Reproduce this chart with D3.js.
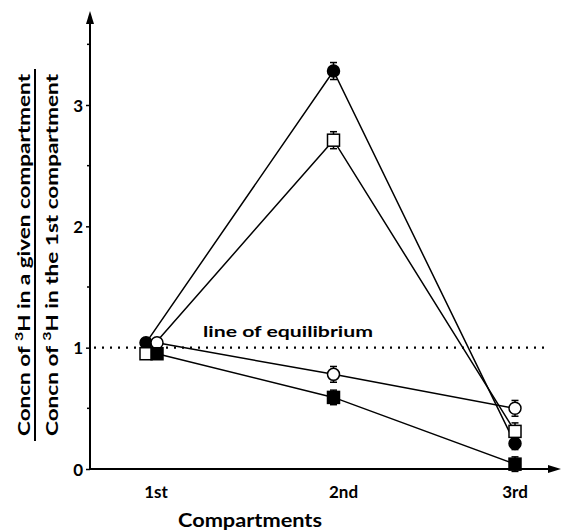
<!DOCTYPE html>
<html>
<head>
<meta charset="utf-8">
<script src="https://cdn.jsdelivr.net/npm/d3@7"></script>
<style>
  html, body { margin: 0; padding: 0; background: #fff; }
  svg text { font-family: Lato, "DejaVu Sans", sans-serif; font-weight: 700; fill: #000; }
</style>
</head>
<body>
<div id="chart"></div>
<script>
// compartments along the x axis
const compartments = ["1st", "2nd", "3rd"];

// ratio of 3H concentration to the 1st compartment, one array per series
const filledCircle = [1.04, 3.28, 0.21];
const openSquare = [0.95, 2.71, 0.31];
const openCircle = [1.04, 0.78, 0.50];
const filledSquare = [0.95, 0.59, 0.04];

// half-width of the error bars
const filledCircleErr = [0.03, 0.07, 0.05];
const openSquareErr = [0.03, 0.07, 0.07];
const openCircleErr = [0.03, 0.065, 0.065];
const filledSquareErr = [0.03, 0.06, 0.06];

const yTicks = [0, 1, 2, 3];
const yMinorTicks = [0.5, 1.5, 2.5, 3.5];
const equilibrium = 1;

const width = 561;
const height = 532;
const lineColor = "#000000";

const series = [
  { name: "filledCircle", values: filledCircle, err: filledCircleErr, shape: "circle", fill: "#000", nudge: -6 },
  { name: "openSquare", values: openSquare, err: openSquareErr, shape: "square", fill: "#fff", nudge: -6 },
  { name: "openCircle", values: openCircle, err: openCircleErr, shape: "circle", fill: "#fff", nudge: 5 },
  { name: "filledSquare", values: filledSquare, err: filledSquareErr, shape: "square", fill: "#000", nudge: 5 }
];

const x = d3.scalePoint()
  .domain(compartments)
  .range([152, 515]);

const y = d3.scaleLinear()
  .domain([0, 3])
  .range([469, 105]);

// the first compartment points are drawn side by side in the original
const px = (s, i) => x(compartments[i]) + (i === 0 ? s.nudge : 0);

const svg = d3.select('#chart').append('svg')
  .attr('width', width)
  .attr('height', height);

// y axis with arrow
const yAxis = d3.axisLeft(y)
  .tickValues(yTicks)
  .tickSize(4)
  .tickPadding(3)
  .tickFormat(d3.format('d'));

const gy = svg.append('g')
  .attr('transform', 'translate(90,0)')
  .call(yAxis);
gy.select('.domain').remove();
gy.selectAll('line').attr('stroke', lineColor).attr('stroke-width', 1.5);
gy.selectAll('text')
  .style('font-size', '17px')
  .attr('dy', '0.36em');

svg.append('line')
  .attr('x1', 90).attr('x2', 90)
  .attr('y1', y(0) + 1).attr('y2', 20)
  .attr('stroke', lineColor)
  .attr('stroke-width', 2);
svg.append('path')
  .attr('d', 'M90,11 L94,24 L86,24 Z')
  .attr('fill', lineColor);

svg.selectAll('.minor')
  .data(yMinorTicks)
  .enter().append('line')
  .attr('class', 'minor')
  .attr('x1', 87).attr('x2', 90)
  .attr('y1', d => y(d)).attr('y2', d => y(d))
  .attr('stroke', lineColor)
  .attr('stroke-width', 1.5);

// x axis with arrow
svg.append('line')
  .attr('x1', 89).attr('x2', 552)
  .attr('y1', y(0)).attr('y2', y(0))
  .attr('stroke', lineColor)
  .attr('stroke-width', 2);
svg.append('path')
  .attr('d', `M561,${y(0)} L548,${y(0) - 4} L548,${y(0) + 4} Z`)
  .attr('fill', lineColor);

const tickNudge = [4, 10, 0];
svg.selectAll('.xlabel')
  .data(compartments)
  .enter().append('text')
  .attr('class', 'xlabel')
  .attr('x', (d, i) => x(d) + tickNudge[i])
  .attr('y', 498)
  .attr('text-anchor', 'middle')
  .style('font-size', '17px')
  .text(d => d);

svg.append('text')
  .attr('x', 250)
  .attr('y', 527)
  .attr('text-anchor', 'middle')
  .attr('textLength', 144)
  .attr('lengthAdjust', 'spacingAndGlyphs')
  .style('font-size', '18px')
  .text('Compartments');

// y axis label as a fraction
const yLabel = svg.append('g')
  .attr('transform', 'translate(0,255) rotate(-90)');

const num = yLabel.append('text')
  .attr('x', 0)
  .attr('y', 30)
  .attr('text-anchor', 'middle')
  .attr('textLength', 362)
  .attr('lengthAdjust', 'spacingAndGlyphs')
  .style('font-size', '17px');
num.append('tspan').text('Concn of ');
num.append('tspan').attr('dy', -7).style('font-size', '12px').text('3');
num.append('tspan').attr('dy', 7).text('H in a given compartment');

yLabel.append('line')
  .attr('x1', -186).attr('x2', 186)
  .attr('y1', 35).attr('y2', 35)
  .attr('stroke', lineColor)
  .attr('stroke-width', 2);

const den = yLabel.append('text')
  .attr('x', 0)
  .attr('y', 58)
  .attr('text-anchor', 'middle')
  .attr('textLength', 362)
  .attr('lengthAdjust', 'spacingAndGlyphs')
  .style('font-size', '17px');
den.append('tspan').text('Concn of ');
den.append('tspan').attr('dy', -7).style('font-size', '12px').text('3');
den.append('tspan').attr('dy', 7).text('H in the 1st compartment');

// line of equilibrium
svg.append('line')
  .attr('x1', 94).attr('x2', 548)
  .attr('y1', y(equilibrium)).attr('y2', y(equilibrium))
  .attr('stroke', lineColor)
  .attr('stroke-width', 2.2)
  .attr('stroke-dasharray', '2,6');

svg.append('text')
  .attr('x', 203)
  .attr('y', 337)
  .attr('textLength', 170)
  .attr('lengthAdjust', 'spacingAndGlyphs')
  .style('font-size', '15px')
  .text('line of equilibrium');

// connecting lines
const line = d3.line()
  .x(d => d.x)
  .y(d => d.y);

series.forEach(s => {
  const pts = s.values.map((v, i) => ({ x: px(s, i), y: y(v) }));
  svg.append('path')
    .datum(pts)
    .attr('d', line)
    .attr('fill', 'none')
    .attr('stroke', lineColor)
    .attr('stroke-width', 1.5);
});

// error bars and markers
series.forEach(s => {
  const g = svg.append('g').attr('class', s.name);
  s.values.forEach((v, i) => {
    const cx = px(s, i);
    const top = y(v + s.err[i]);
    const bot = y(v - s.err[i]);
    g.append('line')
      .attr('x1', cx).attr('x2', cx)
      .attr('y1', top).attr('y2', bot)
      .attr('stroke', lineColor).attr('stroke-width', 1.5);
    [top, bot].forEach(yy => {
      g.append('line')
        .attr('x1', cx - 3.5).attr('x2', cx + 3.5)
        .attr('y1', yy).attr('y2', yy)
        .attr('stroke', lineColor).attr('stroke-width', 1.5);
    });
    if (s.shape === 'circle') {
      g.append('circle')
        .attr('cx', cx).attr('cy', y(v))
        .attr('r', 6)
        .attr('fill', s.fill)
        .attr('stroke', lineColor)
        .attr('stroke-width', 1.5);
    } else {
      g.append('rect')
        .attr('x', cx - 6).attr('y', y(v) - 6)
        .attr('width', 12).attr('height', 12)
        .attr('fill', s.fill)
        .attr('stroke', lineColor)
        .attr('stroke-width', 1.5);
    }
  });
});
</script>
</body>
</html>
